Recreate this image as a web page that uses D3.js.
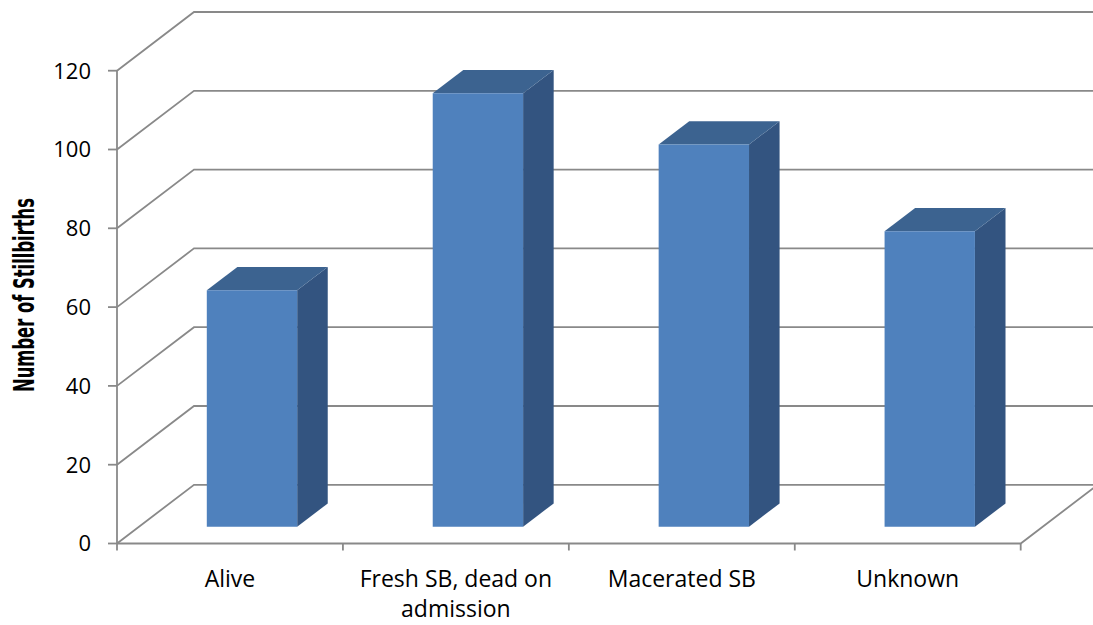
<!DOCTYPE html>
<html>
<head>
<meta charset="utf-8">
<script src="https://cdn.jsdelivr.net/npm/d3@7"></script>
<style>
  html, body { margin: 0; padding: 0; background: #ffffff; }
  svg { display: block; }
</style>
</head>
<body>
<svg id="chart" width="1093" height="625"></svg>
<script>
// ---- data ----
const categories = ["Alive", "Fresh SB, dead on admission", "Macerated SB", "Unknown"];
const labelLines = [["Alive"], ["Fresh SB, dead on", "admission"], ["Macerated SB"], ["Unknown"]];
const values = [60, 110, 97, 75];
const yTicks = [0, 20, 40, 60, 80, 100, 120];
const yTitle = "Number of Stillbirths";

// ---- layout ----
const W = 1093, H = 625;
const x0 = 117, x1 = 1020.7;        // front plane x extent
const yBase = 543.5, yTop = 70.7;   // front plane y for 0 and 120
const depthDX = 77, depthDY = -58.7; // full depth offset
const z0 = 0.286, z1 = 0.683;        // bar depth range (fraction)

const svg = d3.select("#chart");

const x = d3.scaleBand().domain(categories).range([x0, x1]).paddingInner(0).paddingOuter(0);
const y = d3.scaleLinear().domain([0, 120]).range([yBase, yTop]);

const gridColor = "#898989";
const proj = (px, py, z) => [px + depthDX * z, py + depthDY * z];

const grid = svg.append("g").attr("fill", "none").attr("stroke", gridColor).attr("stroke-width", 1.8);

// left wall diagonals + back wall horizontals
yTicks.forEach(v => {
  const a = proj(x0, y(v), 0), b = proj(x0, y(v), 1), c = proj(x1 + 10, y(v), 1);
  grid.append("path").attr("d", d3.line()([a, b, c]));
});
// floor front edge and right diagonal
{
  const a = proj(x0, y(0), 0), b = proj(x1, y(0), 0), c = proj(x1, y(0), 1);
  grid.append("path").attr("d", d3.line()([a, b, c]));
}
// y axis
grid.append("line").attr("x1", x0).attr("x2", x0).attr("y1", y(0)).attr("y2", y(120));
// y ticks
yTicks.forEach(v => {
  grid.append("line").attr("x1", x0 - 9).attr("x2", x0).attr("y1", y(v)).attr("y2", y(v));
});
// x ticks
const xTickPos = categories.map(c => x(c)).concat([x1]);
xTickPos.forEach(px => {
  grid.append("line").attr("x1", px).attr("x2", px).attr("y1", y(0)).attr("y2", y(0) + 7);
});

// ---- bars ----
const barFrac = 0.4;
const bars = svg.append("g");
categories.forEach((c, i) => {
  const bw = x.bandwidth() * barFrac;
  const cx = x(c) + x.bandwidth() / 2;
  const L = cx - bw / 2, R = cx + bw / 2;
  const v = values[i];
  const fBL = proj(L, y(0), z0), fBR = proj(R, y(0), z0);
  const fTL = proj(L, y(v), z0), fTR = proj(R, y(v), z0);
  const bBR = proj(R, y(0), z1), bTR = proj(R, y(v), z1), bTL = proj(L, y(v), z1);
  bars.append("path").attr("d", d3.line()([fBR, bBR, bTR, fTR]) + "Z")
    .attr("fill", "#335480");
  bars.append("path").attr("d", d3.line()([fTL, fTR, bTR, bTL]) + "Z")
    .attr("fill", "#3c6390");
  bars.append("path").attr("d", d3.line()([fBL, fBR, fTR, fTL]) + "Z")
    .attr("fill", "#4f81bd");
});

// ---- labels ----
const font = "'Open Sans', 'Noto Sans', sans-serif";
svg.append("g").selectAll("text").data(yTicks).join("text")
  .attr("x", 91).attr("y", d => y(d)).attr("dy", "0.36em")
  .attr("text-anchor", "end").attr("font-family", font).attr("font-size", 22)
  .attr("fill", "#000").text(d => d);

categories.forEach((c, i) => {
  const t = svg.append("text")
    .attr("x", x(c) + x.bandwidth() / 2).attr("y", 587)
    .attr("text-anchor", "middle").attr("font-family", font).attr("font-size", 23)
    .attr("fill", "#000");
  labelLines[i].forEach((ln, j) => {
    t.append("tspan").attr("x", x(c) + x.bandwidth() / 2).attr("dy", j === 0 ? 0 : 30).text(ln);
  });
});

svg.append("text")
  .attr("transform", "translate(34,295) rotate(-90)")
  .attr("text-anchor", "middle")
  .attr("font-family", "'Liberation Sans Narrow', 'DejaVu Sans Condensed', sans-serif")
  .attr("font-size", 29).attr("font-weight", "bold")
  .attr("textLength", 194).attr("lengthAdjust", "spacingAndGlyphs")
  .attr("fill", "#000").text(yTitle);
</script>
</body>
</html>
